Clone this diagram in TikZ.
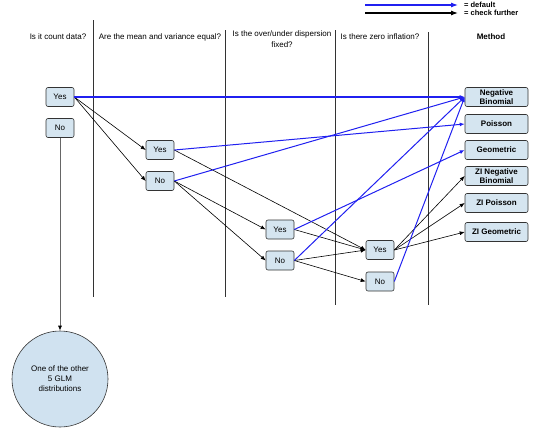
\documentclass[tikz,border=0pt]{standalone}
\usepackage{fontspec}
\setmainfont{Liberation Sans}
\usetikzlibrary{arrows.meta}
\definecolor{boxfill}{HTML}{D5E5F0}
\definecolor{circfill}{HTML}{D0E2F0}
\definecolor{defblue}{HTML}{2020F0}
\begin{document}
\begin{tikzpicture}[x=1pt,y=-1pt, font=\fontsize{8}{9}\selectfont,
 ans/.style={draw=black!80, fill=boxfill, rounded corners=2pt, minimum width=28pt, minimum height=19pt, inner sep=0pt, line width=0.6pt},
 meth/.style={ans, minimum width=63pt, font=\fontsize{8}{8.5}\selectfont\bfseries, align=center},
 dflt/.style={draw=defblue, line width=1pt, -{Latex[length=5pt,width=4pt]}},
 chk/.style={draw=black, line width=0.6pt, -{Latex[length=5pt,width=4pt]}},
 sep/.style={draw=black!80, line width=0.7pt},
 hdr/.style={align=center, inner sep=0pt}
]
\useasboundingbox (0,0) rectangle (540,440);

% headers
\node[hdr] (h1) at (58,37) {Is it count data?};
\node[hdr] (h2) at (160,37) {Are the mean and variance equal?};
\node[hdr, font=\fontsize{8}{11}\selectfont] (h3) at (282,39.5) {Is the over/under dispersion\\fixed?};
\node[hdr] (h4) at (380,37) {Is there zero inflation?};
\node[hdr, font=\fontsize{8}{9}\selectfont\bfseries] (h5) at (491,37) {Method};

% separators
\coordinate (s1t) at (93,20);  \coordinate (s1b) at (93,297);
\coordinate (s2t) at (225,30); \coordinate (s2b) at (225,297);
\coordinate (s3t) at (335,30); \coordinate (s3b) at (335,305);
\coordinate (s4t) at (428,32); \coordinate (s4b) at (428,305);
\draw[sep] (s1t) -- (s1b);
\draw[sep] (s2t) -- (s2b);
\draw[sep] (s3t) -- (s3b);
\draw[sep] (s4t) -- (s4b);

% legend
\coordinate (la1) at (365,5); \coordinate (la2) at (458,5);
\coordinate (lb1) at (365,13); \coordinate (lb2) at (458,13);
\draw[draw=defblue, line width=1.1pt, -{Latex[length=7pt,width=5pt]}] (la1) -- (la2);
\draw[draw=black, line width=1.1pt, -{Latex[length=7pt,width=5pt]}] (lb1) -- (lb2);
\node[anchor=west, inner sep=0pt, font=\fontsize{7.5}{8}\selectfont\bfseries] (ld) at (464,5) {= default};
\node[anchor=west, inner sep=0pt, font=\fontsize{7.5}{8}\selectfont\bfseries] (lc) at (464,13) {= check further};

% answer nodes
\node[ans] (y1) at (60,97) {Yes};
\node[ans] (n1) at (60,128) {No};
\node[ans] (y2) at (160,150) {Yes};
\node[ans] (n2) at (160,181) {No};
\node[ans] (y3) at (280,229.5) {Yes};
\node[ans] (n3) at (280,260.5) {No};
\node[ans] (y4) at (380,250) {Yes};
\node[ans] (n4) at (380,281.5) {No};

% methods
\node[meth] (nb) at (496.5,97) {Negative\\Binomial};
\node[meth] (po) at (496.5,124) {Poisson};
\node[meth] (ge) at (496.5,150) {Geometric};
\node[meth] (zinb) at (496.5,176) {ZI Negative\\Binomial};
\node[meth] (zip) at (496.5,203) {ZI Poisson};
\node[meth] (zig) at (496.5,232) {ZI Geometric};

% circle
\node[circle, draw=black!80, fill=circfill, line width=0.6pt, minimum size=96pt, inner sep=0pt, align=center, font=\fontsize{8}{10}\selectfont] (c) at (60,379) {One of the other\\5 GLM\\distributions};

% check further (black) connectors
\draw[chk] (y1.east) -- (y2.west);
\draw[chk] (y1.east) -- (n2.west);
\draw[chk] (y2.east) -- (y4.west);
\draw[chk] (n2.east) -- (y3.west);
\draw[chk] (n2.east) -- (n3.west);
\draw[chk] (y3.east) -- (y4.west);
\draw[chk] (n3.east) -- (y4.west);
\draw[chk] (n3.east) -- (n4.west);
\draw[chk] (y4.east) -- (zinb.west);
\draw[chk] (y4.east) -- (zip.west);
\draw[chk] (y4.east) -- (zig.west);
\draw[draw=black!60, line width=0.8pt, -{Latex[length=5pt,width=4pt,color=black]}] (n1.south) -- (c.north);

% default (blue) connectors
\draw[dflt, line width=1.1pt] (y1.east) -- (nb.west);
\draw[dflt] (y2.east) -- (po.west);
\draw[dflt] (n2.east) -- (nb.west);
\draw[dflt] (y3.east) -- (ge.west);
\draw[dflt] (n3.east) -- (nb.west);
\draw[dflt] (n4.east) -- (nb.west);
\end{tikzpicture}
\end{document}
